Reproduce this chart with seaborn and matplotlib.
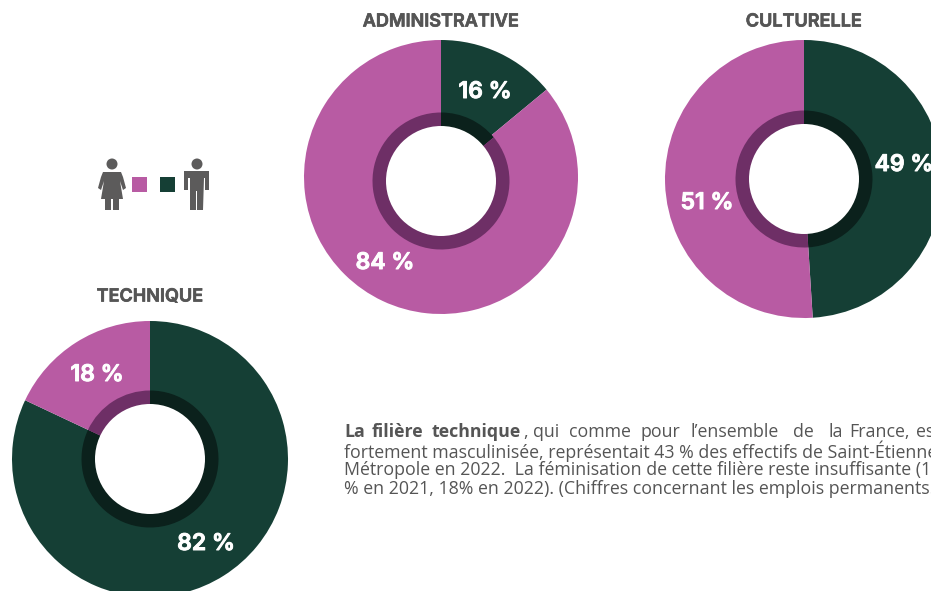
import matplotlib
matplotlib.use('Agg')
import matplotlib.pyplot as plt
import matplotlib.patheffects as pe
import seaborn as sns
from matplotlib.patches import Circle, Polygon, Rectangle

sns.set_theme(style='white')
plt.rcParams['font.family'] = ['Open Sans', 'DejaVu Sans']

W, H = 931, 591

# shares as drawn, women first (the 16 % wedge is drawn narrower than its label says)
titles = ['ADMINISTRATIVE', 'CULTURELLE', 'TECHNIQUE']
women = [86, 51, 18]
men = [14, 49, 82]
women_labels = ['84 %', '51 %', '18 %']
men_labels = ['16 %', '49 %', '82 %']

text_lines = [
    'fortement masculinisée, représentait 43 % des effectifs de Saint-Étienne',
    'Métropole en 2022.  La féminisation de cette filière reste insuffisante (17',
    '% en 2021, 18% en 2022). (Chiffres concernant les emplois permanents.)',
]

pink = '#b85ba3'
green = '#153f35'
pink_dark = '#6e2f66'
green_dark = '#0b211c'
grey = '#5c5b5b'
text_col = '#555555'
heading_font = ['Inter', 'DejaVu Sans']

# layout in pixels: centre x, centre y, radius, title x, title y, inner ring offset
donuts = [(441, 177, 137, 441, 22, 4), (804, 179, 139, 804, 22, 0), (150, 459, 138, 150, 297, 0)]
women_pos = [(385, 263), (707, 203), (97, 375)]
men_pos = [(485, 92), (904, 165), (206, 544)]

fig = plt.figure(figsize=(W / 100, H / 100), dpi=100, facecolor='white')

for i in range(3):
    cx, cy, r, tx, ty, off = donuts[i]
    ax = fig.add_axes([(cx - r) / W, 1 - (cy + r) / H, 2 * r / W, 2 * r / H])
    vals = [men[i], women[i]]
    # clockwise from 12 o'clock, men first
    ax.pie(vals, colors=[green, pink], startangle=90, counterclock=False, radius=1,
           wedgeprops={'linewidth': 0})
    ax.pie(vals, colors=[green_dark, pink_dark], startangle=90, counterclock=False, radius=68.5 / r,
           center=(0, -off / r), wedgeprops={'linewidth': 0})
    ax.add_patch(Circle((0, -off / r), 55 / r, facecolor='white', edgecolor='none', zorder=5))
    ax.set_xlim(-1, 1)
    ax.set_ylim(-1, 1)
    ax.axis('off')

# overlay in pixel coordinates for the texts and the little people
top = fig.add_axes([0, 0, 1, 1], facecolor='none')
top.set_xlim(0, W)
top.set_ylim(H, 0)
top.axis('off')

# the Inter install has no real bold, a thin stroke thickens it
for i in range(3):
    t = top.text(donuts[i][3], donuts[i][4], titles[i], ha='center', va='center', fontsize=13,
                 fontweight='semibold', color=text_col, family=heading_font)
    t.set_path_effects([pe.withStroke(linewidth=0.5, foreground=text_col)])
    for pos, label in ((women_pos[i], women_labels[i]), (men_pos[i], men_labels[i])):
        t = top.text(pos[0], pos[1], label, ha='center', va='center', fontsize=16.5,
                     fontweight='semibold', color='white', family=heading_font)
        t.set_path_effects([pe.withStroke(linewidth=0.7, foreground='white')])

# legend squares
top.add_patch(Rectangle((132, 177), 15, 15, facecolor=pink, edgecolor='none'))
top.add_patch(Rectangle((160, 177), 15, 15, facecolor=green, edgecolor='none'))

# woman
top.add_patch(Circle((112, 164), 5.5, facecolor=grey, edgecolor='none'))
top.add_patch(Polygon([(103, 172), (121, 172), (123, 177), (126, 188), (123, 190), (120, 181),
                       (123, 199), (101, 199), (104, 181), (101, 190), (98, 188), (101, 177)],
                      facecolor=grey, edgecolor='none'))
top.add_patch(Rectangle((105, 199), 6, 11, facecolor=grey, edgecolor='none'))
top.add_patch(Rectangle((113, 199), 6, 11, facecolor=grey, edgecolor='none'))
# man
top.add_patch(Circle((197, 164), 5.5, facecolor=grey, edgecolor='none'))
top.add_patch(Polygon([(184, 171), (209, 171), (209, 190), (205, 190), (205, 178), (204, 178),
                       (203, 210), (197, 210), (197, 191), (196, 191), (196, 210), (190, 210),
                       (190, 178), (188, 178), (188, 190), (184, 190)],
                      facecolor=grey, edgecolor='none'))

# first line is justified, so the words get placed one by one
word_x = [344, 372, 432, 533, 569, 641, 691, 793, 828, 849, 916]
words = ['La', 'filière', 'technique', 'qui', 'comme', 'pour', 'l’ensemble', 'de', 'la', 'France,', 'est']
for x, w in zip(word_x, words):
    top.text(x, 432, w, ha='left', va='center', fontsize=12.8, color=text_col,
             fontweight='bold' if w in ('La', 'filière', 'technique') else 'normal', clip_on=True)
top.text(523, 432, ',', ha='left', va='center', fontsize=12.8, color=text_col)

line_y = [451, 470, 489]
for y, line in zip(line_y, text_lines):
    top.text(344, y, line, ha='left', va='center', fontsize=12.8, color=text_col, clip_on=True)

fig.savefig('out.png', dpi=100)
